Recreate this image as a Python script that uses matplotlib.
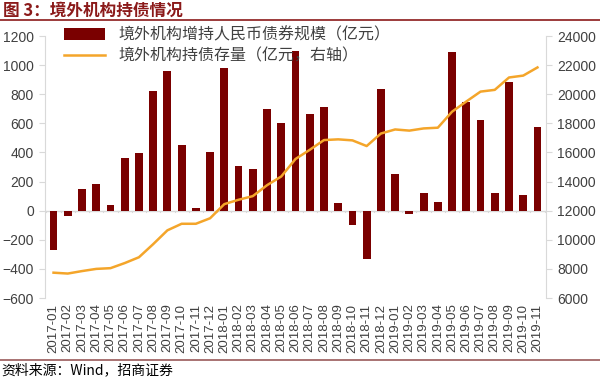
"""Foreign institutions' RMB bond holdings: monthly change (bars) and stock (line)."""

import matplotlib

matplotlib.use("Agg")

import matplotlib.pyplot as plt
import numpy as np

plt.rcParams["font.family"] = ["Noto Sans CJK SC", "DejaVu Sans"]

months = [
    "2017-01", "2017-02", "2017-03", "2017-04", "2017-05", "2017-06",
    "2017-07", "2017-08", "2017-09", "2017-10", "2017-11", "2017-12",
    "2018-01", "2018-02", "2018-03", "2018-04", "2018-05", "2018-06",
    "2018-07", "2018-08", "2018-09", "2018-10", "2018-11", "2018-12",
    "2019-01", "2019-02", "2019-03", "2019-04", "2019-05", "2019-06",
    "2019-07", "2019-08", "2019-09", "2019-10", "2019-11",
]
# monthly net increase, 100m CNY (left axis)
net_increase = [
    -270, -40, 150, 180, 40, 360, 395, 820, 960, 450, 15, 400,
    980, 310, 285, 700, 605, 1100, 665, 715, 50, -95, -335, 835,
    250, -25, 120, 60, 1090, 750, 620, 120, 885, 110, 575,
]
# holdings stock, 100m CNY (right axis)
holdings = [
    7740, 7680, 7850, 8000, 8050, 8400, 8800, 9700, 10650, 11100, 11100, 11480,
    12450, 12750, 13000, 13750, 14350, 15550, 16180, 16850, 16900, 16830, 16440, 17300,
    17580, 17500, 17650, 17700, 18800, 19500, 20180, 20300, 21150, 21280, 21840,
]

BAR_COLOR = "#7a0000"
LINE_COLOR = "#f4a52a"
TEXT_COLOR = "#404040"
SPINE_COLOR = "#d9d9d9"
NUM_FONT = ["Liberation Sans", "DejaVu Sans"]

fig = plt.figure(figsize=(6.0, 3.79), dpi=100)
ax = fig.add_axes([0.075, 0.2137, 0.835, 0.6913])
ax2 = ax.twinx()

x = np.arange(len(months))
ax.bar(x, net_increase, width=0.55, color=BAR_COLOR, zorder=3,
       label="境外机构增持人民币债券规模（亿元）")
ax2.plot(x, holdings, color=LINE_COLOR, linewidth=1.8,
         label="境外机构持债存量（亿元，右轴）")

ax.set_xlim(-0.6, len(months) - 0.4)
ax.set_ylim(-600, 1200)
ax.set_yticks(range(-600, 1201, 200))
ax2.set_ylim(6000, 24000)
ax2.set_yticks(range(6000, 24001, 2000))

ax.axhline(0, color=SPINE_COLOR, linewidth=1, zorder=2)
# small tick marks along the zero line between categories
for b in np.arange(-0.5, len(months), 1.0):
    ax.plot([b, b], [0, -12], color=SPINE_COLOR, linewidth=0.8, zorder=2)

ax.set_xticks(x)
ax.set_xticklabels(months, rotation=90, fontsize=9.5, color=TEXT_COLOR,
                   family=NUM_FONT)
ax.tick_params(axis="x", length=0, pad=4)

for a in (ax, ax2):
    for side in ("top", "bottom"):
        a.spines[side].set_visible(False)
    a.spines["left"].set_color(SPINE_COLOR)
    a.spines["right"].set_color(SPINE_COLOR)
    a.tick_params(axis="y", colors=TEXT_COLOR, labelsize=10, length=4,
                  color=SPINE_COLOR, pad=4)
    for lbl in a.get_yticklabels():
        lbl.set_family(NUM_FONT)
ax.spines["right"].set_visible(False)
ax2.spines["left"].set_visible(False)

h1, l1 = ax.get_legend_handles_labels()
h2, l2 = ax2.get_legend_handles_labels()
leg = ax2.legend(h1 + h2, l1 + l2, loc="upper left", bbox_to_anchor=(0.025, 1.06),
                 frameon=False, fontsize=11.5, handlelength=2.6,
                 labelspacing=0.25, borderaxespad=0)
for t in leg.get_texts():
    t.set_color(TEXT_COLOR)

# header and footer
fig.text(0.005, 0.973, "图 3：境外机构持债情况", fontsize=12, fontweight="bold",
         color="#8b1a1a", va="center", ha="left")
fig.add_artist(plt.Line2D([0, 1], [0.947, 0.947], color="#8b1a1a", linewidth=1.2))
fig.add_artist(plt.Line2D([0, 1], [0.05, 0.05], color="#9a5a5a", linewidth=1.2))
fig.text(0.002, 0.022, "资料来源：Wind，招商证券", fontsize=10, color="black",
         va="center", ha="left")

fig.savefig("out.png", dpi=100)
